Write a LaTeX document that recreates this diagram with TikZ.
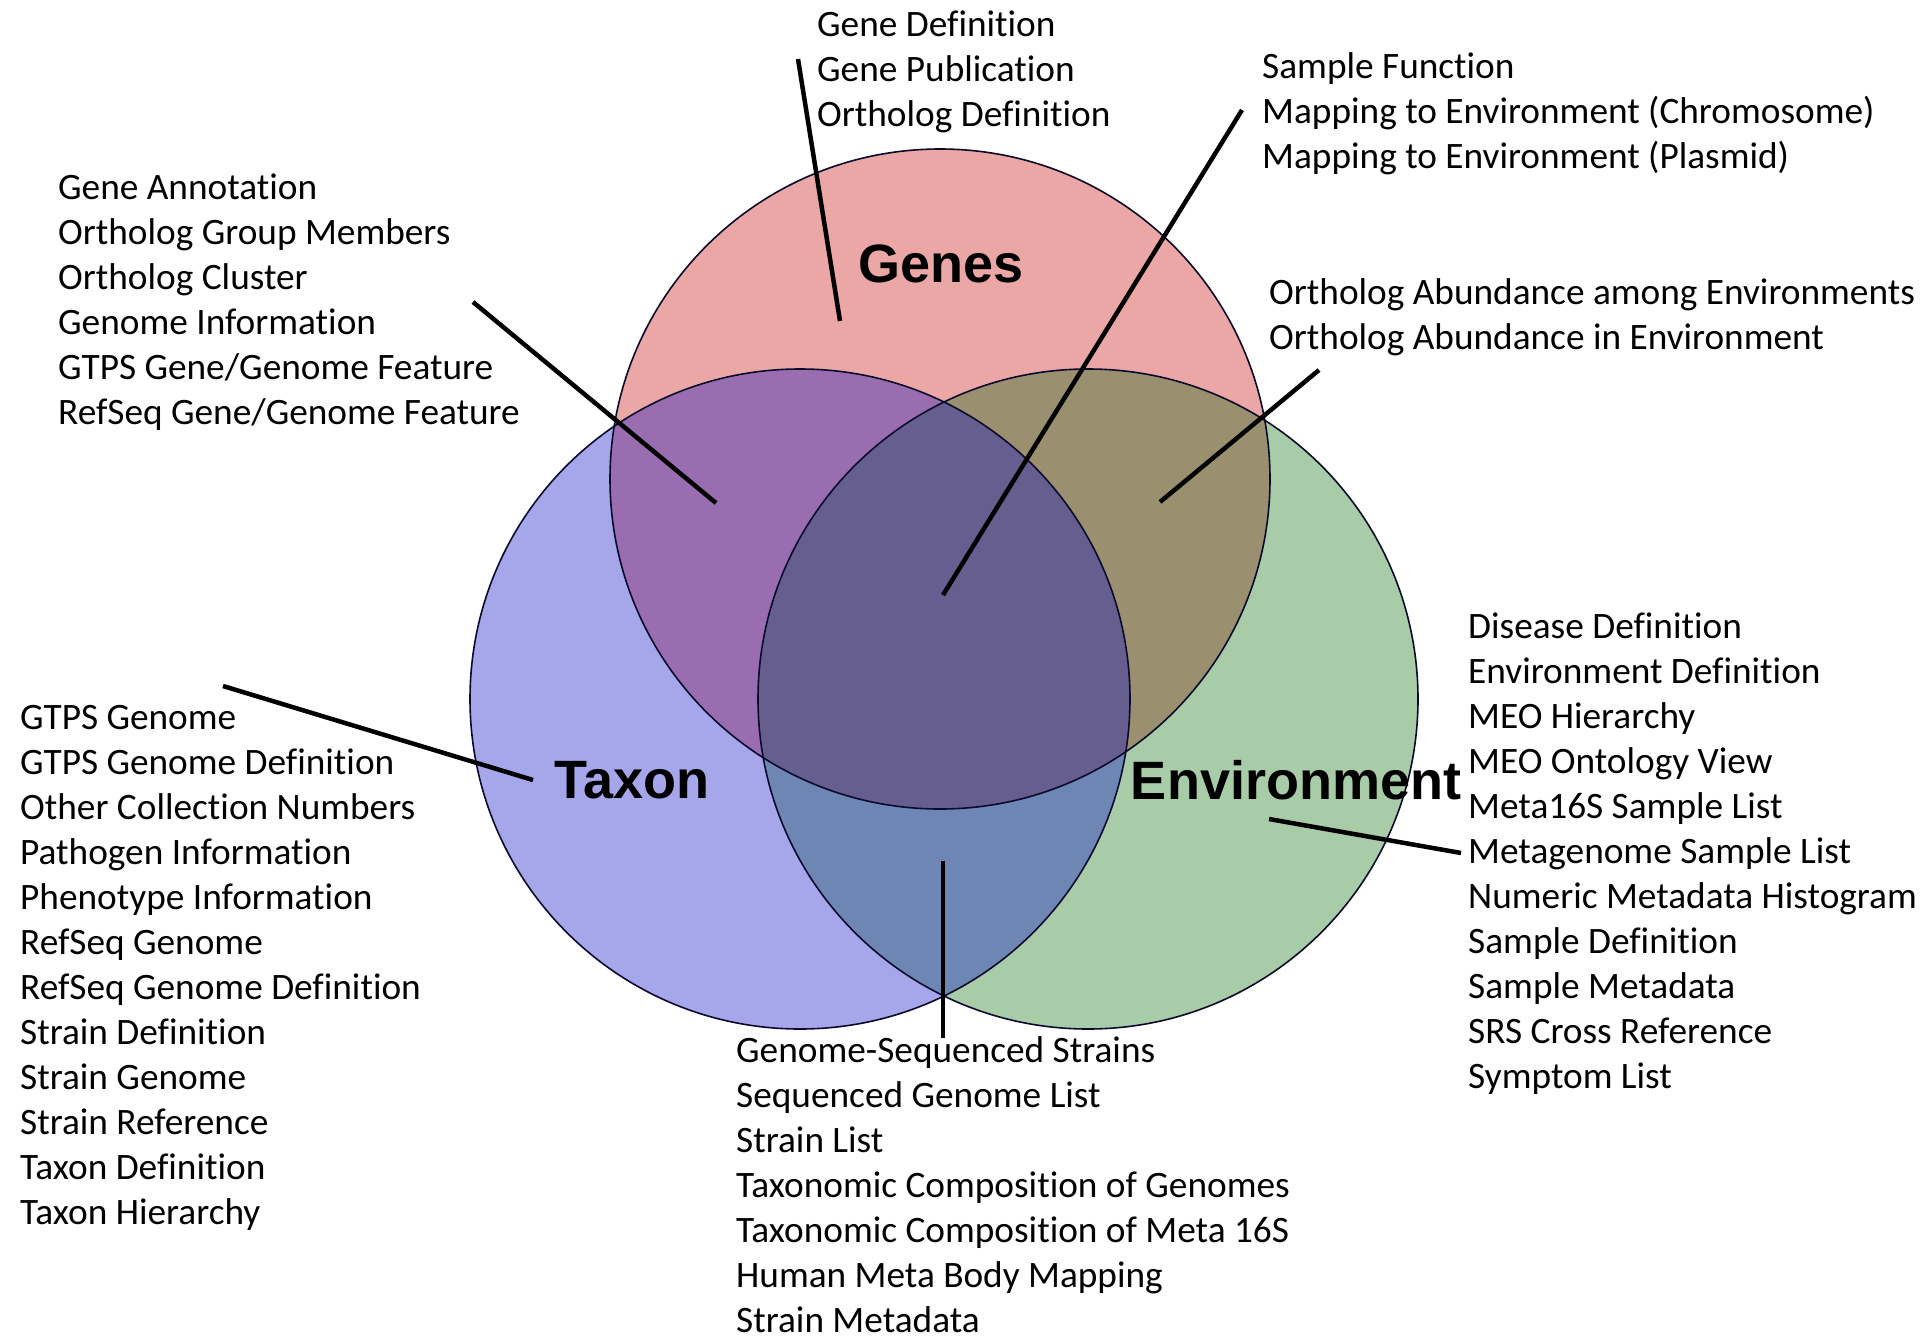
\documentclass[tikz,border=0pt]{standalone}
\usepackage{fontspec}
\setmainfont{Carlito}[Ligatures=NoCommon]
\newfontfamily\setfont{Liberation Sans}

\definecolor{genecol}{RGB}{235,166,166}
\definecolor{taxcol}{RGB}{166,166,234}
\definecolor{envcol}{RGB}{168,203,168}
\definecolor{gtcol}{RGB}{154,109,176}
\definecolor{gecol}{RGB}{154,143,110}
\definecolor{tecol}{RGB}{110,134,180}
\definecolor{allcol}{RGB}{102,94,142}
\definecolor{rimcol}{RGB}{10,10,45}

\tikzset{
  listtext/.style={anchor=north west, align=left, inner sep=0pt,
    font=\fontsize{37.3}{45}\selectfont},
  setname/.style={inner sep=0pt, font=\setfont\bfseries\fontsize{54}{54}\selectfont},
  pointer/.style={line width=4.5pt},
  rim/.style={draw=rimcol, line width=1.6pt}
}

\begin{document}
\begin{tikzpicture}[x=1pt, y=-1pt]

  \useasboundingbox[fill=white] (0,0) rectangle (1920,1339);

  % --- centri dei cerchi ---
  \coordinate (genes) at (940,479);
  \coordinate (taxon) at (800,699);
  \coordinate (env) at (1088,699);

  % --- riempimenti ---
  \fill[genecol] (genes) circle (330pt);
  \fill[taxcol] (taxon) circle (330pt);
  \fill[envcol] (env) circle (330pt);
  \begin{scope}
    \clip (genes) circle (330pt);
    \fill[gtcol] (taxon) circle (330pt);
    \fill[gecol] (env) circle (330pt);
  \end{scope}
  \begin{scope}
    \clip (taxon) circle (330pt);
    \fill[tecol] (env) circle (330pt);
  \end{scope}
  \begin{scope}
    \clip (genes) circle (330pt);
    \clip (taxon) circle (330pt);
    \fill[allcol] (env) circle (330pt);
  \end{scope}

  % --- bordi ---
  \draw[rim] (genes) circle (330pt);
  \draw[rim] (taxon) circle (330pt);
  \draw[rim] (env) circle (330pt);

  % --- nomi degli insiemi ---
  \node[setname] (lgenes) at (941,264) {Genes};
  \node[setname] (ltaxon) at (632,780) {Taxon};
  \node[setname] (lenv) at (1296,780) {Environment};

  % --- elenchi ---
  \node[listtext] (gdef) at (817,11) {Gene Definition\\Gene Publication\\Ortholog Definition};
  \node[listtext] (sfun) at (1262,52) {Sample Function\\Mapping to Environment (Chromosome)\\Mapping to Environment (Plasmid)};
  \node[listtext] (gann) at (58,174) {Gene Annotation\\Ortholog Group Members\\Ortholog Cluster\\Genome Information\\GTPS Gene/Genome Feature\\RefSeq Gene/Genome Feature};
  \node[listtext] (oabu) at (1269,278) {Ortholog Abundance among Environments\\Ortholog Abundance in Environment};
  \node[listtext] (tlist) at (20,705) {GTPS Genome\\GTPS Genome Definition\\Other Collection Numbers\\Pathogen Information\\Phenotype Information\\RefSeq Genome\\RefSeq Genome Definition\\Strain Definition\\Strain Genome\\Strain Reference\\Taxon Definition\\Taxon Hierarchy};
  \node[listtext] (elist) at (1468,613) {Disease Definition\\Environment Definition\\MEO Hierarchy\\MEO Ontology View\\Meta16S Sample List\\Metagenome Sample List\\Numeric Metadata Histogram\\Sample Definition\\Sample Metadata\\SRS Cross Reference\\Symptom List};
  \node[listtext] (slist) at (736,1036) {Genome-Sequenced Strains\\Sequenced Genome List\\Strain List\\Taxonomic Composition of Genomes\\Taxonomic Composition of Meta 16S\\Human Meta Body Mapping\\Strain Metadata};

  % --- estremi dei segmenti ---
  \coordinate (gdef-a) at (798,59);
  \coordinate (gdef-b) at (840,321);
  \coordinate (sfun-a) at (1242,110);
  \coordinate (sfun-b) at (943,595);
  \coordinate (gann-a) at (473,302);
  \coordinate (gann-b) at (716,503);
  \coordinate (oabu-a) at (1319,370);
  \coordinate (oabu-b) at (1160,502);
  \coordinate (tlist-a) at (223,686);
  \coordinate (tlist-b) at (533,780);
  \coordinate (elist-a) at (1461,853);
  \coordinate (elist-b) at (1269,819);
  \coordinate (slist-a) at (943,1038);
  \coordinate (slist-b) at (943,861);

  % --- segmenti ---
  \draw[pointer] (gdef-a) -- (gdef-b);
  \draw[pointer] (sfun-a) -- (sfun-b);
  \draw[pointer] (gann-a) -- (gann-b);
  \draw[pointer] (oabu-a) -- (oabu-b);
  \draw[pointer] (tlist-a) -- (tlist-b);
  \draw[pointer] (elist-a) -- (elist-b);
  \draw[pointer] (slist-a) -- (slist-b);

\end{tikzpicture}
\end{document}
